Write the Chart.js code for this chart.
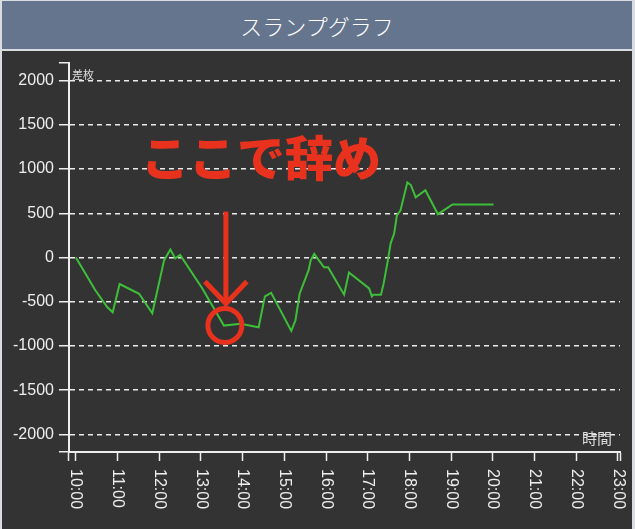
<!DOCTYPE html>
<html>
<head>
<meta charset="utf-8">
<script src="https://cdn.jsdelivr.net/npm/chart.js@4.4.1/dist/chart.umd.min.js"></script>
<style>
  html, body { margin: 0; padding: 0; width: 635px; height: 529px; overflow: hidden; background: #d9dce1; }
  #title {
    position: absolute; left: 2px; top: 1px; width: 630px; height: 48px;
    background: #65758d; color: #fff; text-align: center;
    font: 300 22px "Noto Sans CJK JP", sans-serif; line-height: 48px;
  }
  #wrap { position: absolute; left: 2px; top: 51px; width: 630px; height: 478px; background: #333333; }
</style>
</head>
<body>
<div id="title">スランプグラフ</div>
<div id="wrap"><canvas id="slump" width="630" height="478"></canvas></div>
<script>
// slump data (time of day, balance)
const times = ['10:00', '10:28', '10:45', '10:53', '11:03', '11:31', '11:50', '12:07', '12:16', '12:23',
  '12:30', '13:02', '13:33', '13:57', '14:23', '14:32', '14:41', '15:10', '15:16', '15:22',
  '15:35', '15:38', '15:43', '15:57', '16:03', '16:26', '16:33', '17:02', '17:06', '17:08',
  '17:19', '17:23', '17:29', '17:33', '17:38', '17:42', '17:47', '17:57', '18:02', '18:09',
  '18:23', '18:41', '19:02', '20:01'];
const balance = [0, -370, -560, -620, -300, -410, -630, -30, 90, -10,
  30, -350, -770, -750, -790, -440, -400, -830, -710, -410,
  -140, -30, 40, -110, -110, -420, -170, -350, -440, -420,
  -420, -290, -30, 160, 270, 480, 530, 850, 820, 680,
  760, 490, 600, 600];

const hourLabels = ['10:00', '11:00', '12:00', '13:00', '14:00', '15:00', '16:00',
  '17:00', '18:00', '19:00', '20:00', '21:00', '22:00', '23:00'];
const yTicks = [-2000, -1500, -1000, -500, 0, 500, 1000, 1500, 2000];
const xStart = '09:50', xEnd = '23:03';
const yMin = -2200, yMax = 2200;

const quitTime = '13:33';
const noteText = 'ここで辞め';
const yTitle = '差枚';
const xTitle = '時間';

function toMin(t) {
  const [h, m] = t.split(':').map(Number);
  return h * 60 + m;
}

const AXIS = '#eeeeee';
const RED = '#e8321e';

// labels, axis titles and the "quit here" note
const decor = {
  id: 'decor',
  afterDraw(chart) {
    const ctx = chart.ctx;
    const xs = chart.scales.x, ys = chart.scales.y;
    const area = chart.chartArea;

    // x tick labels, turned to read top to bottom
    ctx.save();
    ctx.fillStyle = AXIS;
    ctx.font = '16px "Liberation Sans", Arial, sans-serif';
    ctx.textAlign = 'left';
    ctx.textBaseline = 'middle';
    hourLabels.forEach(h => {
      ctx.save();
      ctx.translate(xs.getPixelForValue(toMin(h)), xs.top + 17);
      ctx.rotate(Math.PI / 2);
      ctx.fillText(h, 0, 0);
      ctx.restore();
    });
    ctx.restore();

    // axis titles
    ctx.save();
    ctx.fillStyle = '#dddddd';
    ctx.textAlign = 'center';
    ctx.textBaseline = 'middle';
    ctx.font = '11px "Noto Sans CJK JP", sans-serif';
    ctx.fillText(yTitle, area.left + 14, area.top + 12);
    ctx.font = '15px "Noto Sans CJK JP", sans-serif';
    ctx.fillText(xTitle, area.right - 23, area.bottom - 14);
    ctx.restore();

    // note at the quit point
    const i = times.indexOf(quitTime);
    const px = xs.getPixelForValue(toMin(quitTime));
    const py = ys.getPixelForValue(balance[i]);
    ctx.save();
    ctx.strokeStyle = RED;
    ctx.fillStyle = RED;
    ctx.lineWidth = 5;
    ctx.lineCap = 'butt';
    ctx.beginPath();
    ctx.arc(px + 1, py, 17, 0, Math.PI * 2);
    ctx.stroke();
    ctx.beginPath();
    ctx.moveTo(px + 2, py - 114);
    ctx.lineTo(px + 2, py - 24);
    ctx.stroke();
    ctx.lineJoin = 'miter';
    ctx.beginPath();
    ctx.moveTo(px - 19, py - 44);
    ctx.lineTo(px + 2, py - 22);
    ctx.lineTo(px + 23, py - 44);
    ctx.stroke();
    ctx.font = '900 48px "Noto Sans CJK JP", sans-serif';
    ctx.textAlign = 'center';
    ctx.textBaseline = 'middle';
    ctx.fillText(noteText, px + 37, py - 168);
    ctx.restore();
  }
};

new Chart(document.getElementById('slump'), {
  type: 'line',
  data: {
    datasets: [{
      data: times.map((t, i) => ({ x: toMin(t), y: balance[i] })),
      borderColor: '#3dbf3a',
      borderWidth: 2,
      pointRadius: 0,
      tension: 0,
      fill: false
    }]
  },
  options: {
    responsive: false,
    animation: false,
    devicePixelRatio: 1,
    layout: { padding: { left: 6, right: 12, top: 12, bottom: 0 } },
    plugins: {
      legend: { display: false },
      tooltip: { enabled: false },
      title: { display: false }
    },
    scales: {
      x: {
        type: 'linear',
        min: toMin(xStart),
        max: toMin(xEnd),
        afterBuildTicks: s => {
          s.ticks = [s.min, ...hourLabels.map(toMin), s.max].map(v => ({ value: v }));
        },
        afterFit: s => { s.height = 77; },
        ticks: { display: false },
        grid: { drawOnChartArea: false, drawTicks: true, tickLength: 9, tickColor: AXIS, tickWidth: 1.5 },
        border: { color: AXIS, width: 2 }
      },
      y: {
        min: yMin,
        max: yMax,
        afterBuildTicks: s => {
          s.ticks = [s.min, ...yTicks, s.max].map(v => ({ value: v }));
        },
        afterFit: s => { s.paddingTop = 0; s.paddingBottom = 0; },
        ticks: {
          color: AXIS,
          padding: 5,
          font: { family: '"Liberation Sans", Arial, sans-serif', size: 16 },
          callback: v => yTicks.includes(v) ? String(v) : ''
        },
        grid: {
          color: c => (c.tick && yTicks.includes(c.tick.value)) ? 'rgba(255,255,255,0.9)' : 'rgba(0,0,0,0)',
          lineWidth: 1.5,
          tickLength: 10,
          tickColor: AXIS,
          tickWidth: 1.5
        },
        border: { color: AXIS, width: 2, dash: [5, 4] }
      }
    }
  },
  plugins: [decor]
});
</script>
</body>
</html>
